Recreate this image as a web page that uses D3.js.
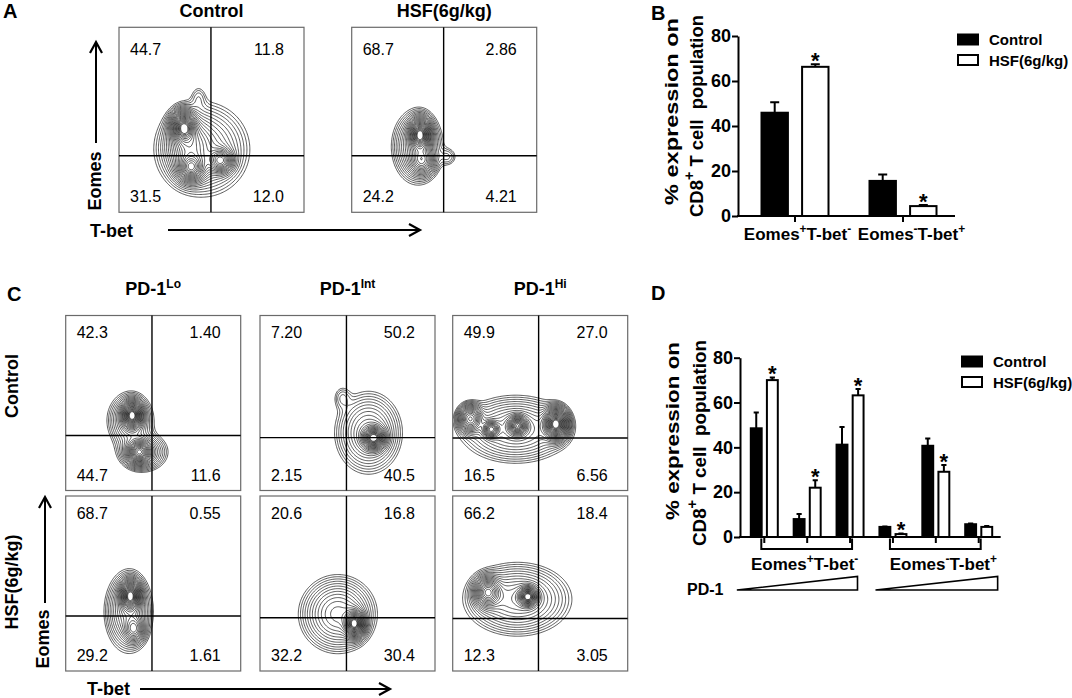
<!DOCTYPE html>
<html>
<head>
<meta charset="utf-8">
<script src="https://cdn.jsdelivr.net/npm/d3@7"></script>
<style>
  body { margin: 0; background: #fff; }
  text { font-family: Arial, "Liberation Sans", sans-serif; fill: #000; }
</style>
</head>
<body>
<svg id="fig" width="1072" height="698"></svg>
<script>
/* global d3 */

// ---- flow plots: quadrant percentages [UL, UR, LL, LR] ----
const quadA = [
  ['44.7', '11.8', '31.5', '12.0'],
  ['68.7', '2.86', '24.2', '4.21'],
];
const quadC = [
  ['42.3', '1.40', '44.7', '11.6'],
  ['7.20', '50.2', '2.15', '40.5'],
  ['49.9', '27.0', '16.5', '6.56'],
  ['68.7', '0.55', '29.2', '1.61'],
  ['20.6', '16.8', '32.2', '30.4'],
  ['66.2', '18.4', '12.3', '3.05'],
];
// quadrant gate position [x, y] as fraction of the plot box
const gateA = [[0.497, 0.694], [0.497, 0.694]];
const gateC = [
  [0.493, 0.686], [0.494, 0.698], [0.491, 0.700],
  [0.493, 0.686], [0.494, 0.696], [0.490, 0.700],
];
// cell populations seen in each plot: [x, y, sdX, sdY, weight] (box fractions)
const popsA = [
  [[0.45, 0.66, 0.12, 0.12, 0.25], [0.35, 0.54, 0.035, 0.045, 1.0], [0.39, 0.76, 0.04, 0.04, 0.7],
   [0.55, 0.72, 0.035, 0.035, 0.6], [0.38, 0.64, 0.06, 0.08, 0.35], [0.43, 0.38, 0.025, 0.04, 0.04]],
  [[0.355, 0.645, 0.065, 0.095, 0.25], [0.37, 0.58, 0.03, 0.045, 1.0], [0.38, 0.72, 0.035, 0.04, 0.4],
   [0.52, 0.70, 0.03, 0.03, 0.05]],
];
const popsC = [
  [[0.37, 0.60, 0.065, 0.08, 0.2], [0.44, 0.78, 0.07, 0.055, 0.2], [0.38, 0.57, 0.03, 0.04, 1.0],
   [0.42, 0.78, 0.035, 0.035, 0.7]],
  [[0.62, 0.67, 0.09, 0.11, 0.25], [0.65, 0.70, 0.035, 0.035, 1.0], [0.47, 0.47, 0.03, 0.04, 0.05]],
  [[0.36, 0.65, 0.15, 0.09, 0.22], [0.10, 0.59, 0.035, 0.04, 0.5], [0.22, 0.65, 0.025, 0.025, 0.5],
   [0.37, 0.63, 0.03, 0.03, 0.7], [0.59, 0.62, 0.035, 0.045, 1.0]],
  [[0.36, 0.66, 0.065, 0.11, 0.25], [0.37, 0.57, 0.03, 0.045, 1.0], [0.39, 0.76, 0.03, 0.04, 0.35]],
  [[0.445, 0.675, 0.10, 0.10, 0.3], [0.54, 0.73, 0.03, 0.04, 1.0]],
  [[0.37, 0.59, 0.14, 0.095, 0.3], [0.20, 0.55, 0.04, 0.045, 0.7], [0.43, 0.575, 0.03, 0.03, 1.0]],
];
const titlesA = ['Control', 'HSF(6g/kg)'];
const titlesC = [['PD-1', 'Lo'], ['PD-1', 'Int'], ['PD-1', 'Hi']];
const rowsC = ['Control', 'HSF(6g/kg)'];

// ---- bar charts ----
const yTicks = [0, 20, 40, 60, 80];
const seriesNames = ['Control', 'HSF(6g/kg)'];
const groupsB = [['Eomes', '+', 'T-bet', '-'], ['Eomes', '-', 'T-bet', '+']];
const controlB = [45.9, 15.6];
const controlErrB = [4.7, 2.9];
const hsfB = [66.3, 4.4];
const hsfErrB = [1.2, 0.5];
const starB = [true, true];

const pdLevels = ['Lo', 'Int', 'Hi', 'Lo', 'Int', 'Hi'];
const controlD = [48.5, 8.0, 41.2, 4.5, 40.7, 5.7];
const controlErrD = [7.1, 2.3, 7.9, 0.2, 3.2, 0.3];
const hsfD = [70.0, 22.0, 63.2, 1.3, 29.1, 4.5];
const hsfErrD = [1.2, 3.3, 2.8, 0.3, 3.0, 0.4];
const starD = [true, true, true, true, true, false];

const svg = d3.select('#fig');
svg.append('rect').attr('width', 1072).attr('height', 698).attr('fill', '#fff');

let clipId = 0;

function flowPlot(x0, y0, size, gate, pops, quad, numTop, numBot) {
  const g = svg.append('g');
  const n = 150;
  const gx = d3.scaleLinear().domain([0, n]).range([x0, x0 + size]);
  const gy = d3.scaleLinear().domain([0, n]).range([y0, y0 + size]);
  const fx = d3.scaleLinear().domain([0, 1]).range([x0, x0 + size]);
  const fy = d3.scaleLinear().domain([0, 1]).range([y0, y0 + size]);

  const values = new Float64Array(n * n);
  for (let j = 0; j < n; j++) {
    for (let i = 0; i < n; i++) {
      const px = (i + 0.5) / n, py = (j + 0.5) / n;
      let v = 0;
      pops.forEach(([cx, cy, sx, sy, w]) => {
        v += w * Math.exp(-((px - cx) ** 2) / (2 * sx * sx) - ((py - cy) ** 2) / (2 * sy * sy));
      });
      values[j * n + i] = v;
    }
  }
  // density levels giving evenly spaced rings, leaving the peaks open
  const max = d3.max(values);
  const L = 24, skip = 4, lo = 0.02;
  const levels = d3.range(skip + 1, L + skip + 1)
    .map(k => max * Math.exp(Math.log(lo) * (k / (L + skip)) ** 2))
    .reverse();
  const contours = d3.contours().size([n, n]).thresholds(levels)(values);
  const path = d3.geoPath(d3.geoTransform({
    point(x, y) { this.stream.point(gx(x), gy(y)); },
  }));

  const id = `clip${clipId++}`;
  g.append('clipPath').attr('id', id)
    .append('rect').attr('x', x0).attr('y', y0).attr('width', size).attr('height', size);

  g.append('g').attr('clip-path', `url(#${id})`)
    .selectAll('path').data(contours).join('path')
    .attr('d', path)
    .attr('fill', 'none')
    .attr('stroke', '#000')
    .attr('stroke-width', 0.65);

  g.append('rect')
    .attr('x', x0).attr('y', y0).attr('width', size).attr('height', size)
    .attr('fill', 'none').attr('stroke', '#6a6a6a').attr('stroke-width', 1.2);
  g.append('line')
    .attr('x1', fx(gate[0])).attr('x2', fx(gate[0])).attr('y1', fy(0)).attr('y2', fy(1))
    .attr('stroke', '#000').attr('stroke-width', 1.4);
  g.append('line')
    .attr('x1', fx(0)).attr('x2', fx(1)).attr('y1', fy(gate[1])).attr('y2', fy(gate[1]))
    .attr('stroke', '#000').attr('stroke-width', 1.4);

  const pos = [
    [x0 + 11, y0 + numTop, 'start'], [x0 + size - 20, y0 + numTop, 'end'],
    [x0 + 11, y0 + size - numBot, 'start'], [x0 + size - 20, y0 + size - numBot, 'end'],
  ];
  g.selectAll('text.q').data(quad).join('text')
    .attr('class', 'q')
    .attr('x', (d, i) => pos[i][0])
    .attr('y', (d, i) => pos[i][1])
    .attr('text-anchor', (d, i) => pos[i][2])
    .attr('font-size', 16)
    .attr('fill', '#111')
    .text(d => d);
}

function boldText(x, y, str, size, opts = {}) {
  const t = svg.append('text')
    .attr('x', x).attr('y', y)
    .attr('font-size', size).attr('font-weight', 'bold')
    .attr('text-anchor', opts.anchor || 'start')
    .text(str);
  if (opts.rotate) {
    t.attr('transform', `rotate(-90,${x},${y})`).attr('dominant-baseline', 'central');
  }
  if (opts.length) {
    t.attr('textLength', opts.length).attr('lengthAdjust', 'spacingAndGlyphs');
  }
  return t;
}

function arrow(x1, y1, x2, y2) {
  svg.append('line')
    .attr('x1', x1).attr('y1', y1).attr('x2', x2).attr('y2', y2)
    .attr('stroke', '#000').attr('stroke-width', 2);
  const ang = Math.atan2(y2 - y1, x2 - x1);
  const a = 11, b = 6;
  const p = [
    [x2 - a * Math.cos(ang) + b * Math.sin(ang), y2 - a * Math.sin(ang) - b * Math.cos(ang)],
    [x2, y2],
    [x2 - a * Math.cos(ang) - b * Math.sin(ang), y2 - a * Math.sin(ang) + b * Math.cos(ang)],
  ];
  svg.append('path').attr('d', d3.line()(p))
    .attr('fill', 'none').attr('stroke', '#000').attr('stroke-width', 2.2)
    .attr('stroke-linejoin', 'miter');
}

// ---------- Panel A ----------
boldText(3, 18, 'A', 20);
const boxesA = [[119, 27.3], [351.7, 27.3]];
boxesA.forEach(([x, y], i) => {
  flowPlot(x, y, 185, gateA[i], popsA[i], quadA[i], 28, 10.5);
  boldText(x + 92.5, 17, titlesA[i], 18, { anchor: 'middle' });
});
boldText(95, 181, 'Eomes', 18, { anchor: 'middle', rotate: true });
arrow(96, 143, 96, 42);
boldText(90, 237, 'T-bet', 18);
arrow(168, 230, 420, 230);

// ---------- Panel C ----------
boldText(7, 301, 'C', 20);
const colsC = [65.7, 260, 452.7];
const rowY = [315.5, 496];
quadC.forEach((q, i) => {
  const col = i % 3, row = Math.floor(i / 3);
  flowPlot(colsC[col], rowY[row], 175, gateC[i], popsC[i], q, 22.5, 10);
});
titlesC.forEach(([main, sup], i) => {
  const t = svg.append('text')
    .attr('x', colsC[i] + 87.5).attr('y', 295)
    .attr('text-anchor', 'middle')
    .attr('font-size', 18).attr('font-weight', 'bold');
  t.append('tspan').text(main);
  t.append('tspan').attr('dy', -7).attr('font-size', 12).text(sup);
});
boldText(12, 386, rowsC[0], 18, { anchor: 'middle', rotate: true });
boldText(12, 582, rowsC[1], 18, { anchor: 'middle', rotate: true });
boldText(43, 639, 'Eomes', 18, { anchor: 'middle', rotate: true });
arrow(45, 603, 45, 497);
boldText(87, 695, 'T-bet', 18);
arrow(140, 689, 390, 689);

// ---------- bar chart helpers ----------
function supLabel(sel, parts, size) {
  sel.append('tspan').text(parts[0]);
  sel.append('tspan').attr('dy', -7).attr('font-size', size * 0.7).text(parts[1]);
  sel.append('tspan').attr('dy', 7).text(parts[2]);
  sel.append('tspan').attr('dy', -7).attr('font-size', size * 0.7).text(parts[3]);
}

function yTitle(cx1, cy1, len1, cx2, cy2, len2) {
  boldText(cx1, cy1, '% expression on', 18, { anchor: 'middle', rotate: true, length: len1 });
  const t = svg.append('text')
    .attr('x', cx2).attr('y', cy2)
    .attr('transform', `rotate(-90,${cx2},${cy2})`)
    .attr('dominant-baseline', 'central')
    .attr('text-anchor', 'middle')
    .attr('font-size', 18).attr('font-weight', 'bold')
    .attr('textLength', len2).attr('lengthAdjust', 'spacingAndGlyphs')
    .attr('xml:space', 'preserve');
  t.append('tspan').text('CD8');
  t.append('tspan').attr('dy', -8).attr('font-size', 14).text('+');
  t.append('tspan').attr('dy', 8).text(' T cell  population');
}

function legend(x, y) {
  const lg = svg.append('g');
  seriesNames.forEach((name, i) => {
    lg.append('rect')
      .attr('x', x).attr('y', y + i * 20.5)
      .attr('width', 20).attr('height', 10)
      .attr('fill', i === 0 ? '#000' : '#fff')
      .attr('stroke', '#000').attr('stroke-width', 2);
    lg.append('text')
      .attr('x', x + 31).attr('y', y + i * 20.5 + 10.5)
      .attr('font-size', 15).attr('font-weight', 'bold')
      .text(name);
  });
}

function drawBars(x, yScale, cats, inner, series, errs, stars) {
  const g = svg.append('g');
  series.forEach((vals, s) => {
    vals.forEach((v, i) => {
      const bx = x(cats[i]) + x.bandwidth() / 2 + inner(s);
      const bw = inner.bandwidth();
      const top = yScale(v);
      g.append('rect')
        .attr('x', bx + 1).attr('y', top)
        .attr('width', bw - 2).attr('height', yScale(0) - top)
        .attr('fill', s === 0 ? '#000' : '#fff')
        .attr('stroke', '#000').attr('stroke-width', 2);
      const et = yScale(v + errs[s][i]);
      const cx = bx + bw / 2;
      const cap = Math.min(9, bw * 0.4);
      g.append('path')
        .attr('d', `M${cx},${top}V${et}M${cx - cap / 2},${et}H${cx + cap / 2}`)
        .attr('stroke', '#000').attr('stroke-width', 2).attr('fill', 'none');
      if (s === 1 && stars[i]) {
        g.append('text')
          .attr('x', cx).attr('y', et + 4)
          .attr('text-anchor', 'middle')
          .attr('font-size', 22).attr('font-weight', 'bold')
          .text('*');
      }
    });
  });
}

function yAxis(xPos, yScale) {
  const ax = svg.append('g')
    .attr('transform', `translate(${xPos},0)`)
    .call(d3.axisLeft(yScale).tickValues(yTicks).tickSize(6).tickPadding(1).tickSizeOuter(0));
  ax.select('.domain').attr('stroke-width', 2);
  ax.selectAll('.tick line').attr('stroke-width', 2);
  ax.selectAll('.tick text')
    .attr('font-size', 18).attr('font-weight', 'bold')
    .attr('font-family', 'Arial, "Liberation Sans", sans-serif').attr('fill', '#000');
}

function xAxis(yPos, xScale, x0, x1) {
  const ax = svg.append('g')
    .attr('transform', `translate(0,${yPos})`)
    .call(d3.axisBottom(xScale).tickSize(6).tickSizeOuter(0).tickFormat(''));
  ax.select('.domain').remove();
  ax.selectAll('.tick line').attr('stroke-width', 2);
  svg.append('line').attr('x1', x0).attr('x2', x1).attr('y1', yPos).attr('y2', yPos)
    .attr('stroke', '#000').attr('stroke-width', 2);
}

// ---------- Panel B ----------
boldText(651, 20, 'B', 20);
const yB = d3.scaleLinear().domain([0, 80]).range([216, 36]);
const catB = d3.range(groupsB.length);
const xB = d3.scaleBand().domain(catB).range([741, 957]);
const innerB = d3.scaleBand().domain([0, 1]).range([-34.5, 34.5]).paddingInner(0.3);
drawBars(xB, yB, catB, innerB, [controlB, hsfB], [controlErrB, hsfErrB], starB);
yAxis(738, yB);
xAxis(216, xB, 737, 955);
const labelShiftB = [2.5, 8.5];
groupsB.forEach((parts, i) => {
  const t = svg.append('text')
    .attr('x', xB(i) + xB.bandwidth() / 2 + labelShiftB[i]).attr('y', 240)
    .attr('text-anchor', 'middle')
    .attr('font-size', 17).attr('font-weight', 'bold');
  supLabel(t, parts, 17);
});
yTitle(671.5, 111.5, 187, 697, 116, 202);
legend(958, 34.5);

// ---------- Panel D ----------
boldText(651, 300, 'D', 20);
const yD = d3.scaleLinear().domain([0, 80]).range([537, 357.7]);
const catD = d3.range(pdLevels.length);
const xD = d3.scaleBand().domain(catD).range([742, 1001]).paddingOuter(0.02);
const innerD = d3.scaleBand().domain([0, 1]).range([-14.5, 14.5]).paddingInner(0.2);
drawBars(xD, yD, catD, innerD, [controlD, hsfD], [controlErrD, hsfErrD], starD);
yAxis(740, yD);
xAxis(537, xD, 739, 1000.7);

// brackets, group labels and PD-1 wedges
const subsetD = [[0, 2], [3, 5]];
const labelShiftD = [-2, 8];
const wedgeShift = [[-6, -14], [4, -2.5]];
subsetD.forEach(([a, b], i) => {
  const xa = xD(a) + xD.bandwidth() / 2 - 3;
  const xb = xD(b) + xD.bandwidth() / 2 + 2;
  svg.append('path')
    .attr('d', `M${xa},538.5V549H${xb}V538.5`)
    .attr('fill', 'none').attr('stroke', '#000').attr('stroke-width', 2);
  const t = svg.append('text')
    .attr('x', (xa + xb) / 2 + labelShiftD[i]).attr('y', 570)
    .attr('text-anchor', 'middle')
    .attr('font-size', 17).attr('font-weight', 'bold');
  supLabel(t, groupsB[i], 17);
  const w0 = xD(a) + wedgeShift[i][0];
  const w1 = xD(b) + xD.bandwidth() + wedgeShift[i][1];
  svg.append('path')
    .attr('d', d3.line()([[w0, 590], [w1, 576.5], [w1, 590]]) + 'Z')
    .attr('fill', '#fff').attr('stroke', '#000').attr('stroke-width', 1.6);
});
boldText(687, 595, 'PD-1', 16);
yTitle(673, 431, 178, 700, 443, 206);
legend(962, 356.5);
</script>
</body>
</html>
